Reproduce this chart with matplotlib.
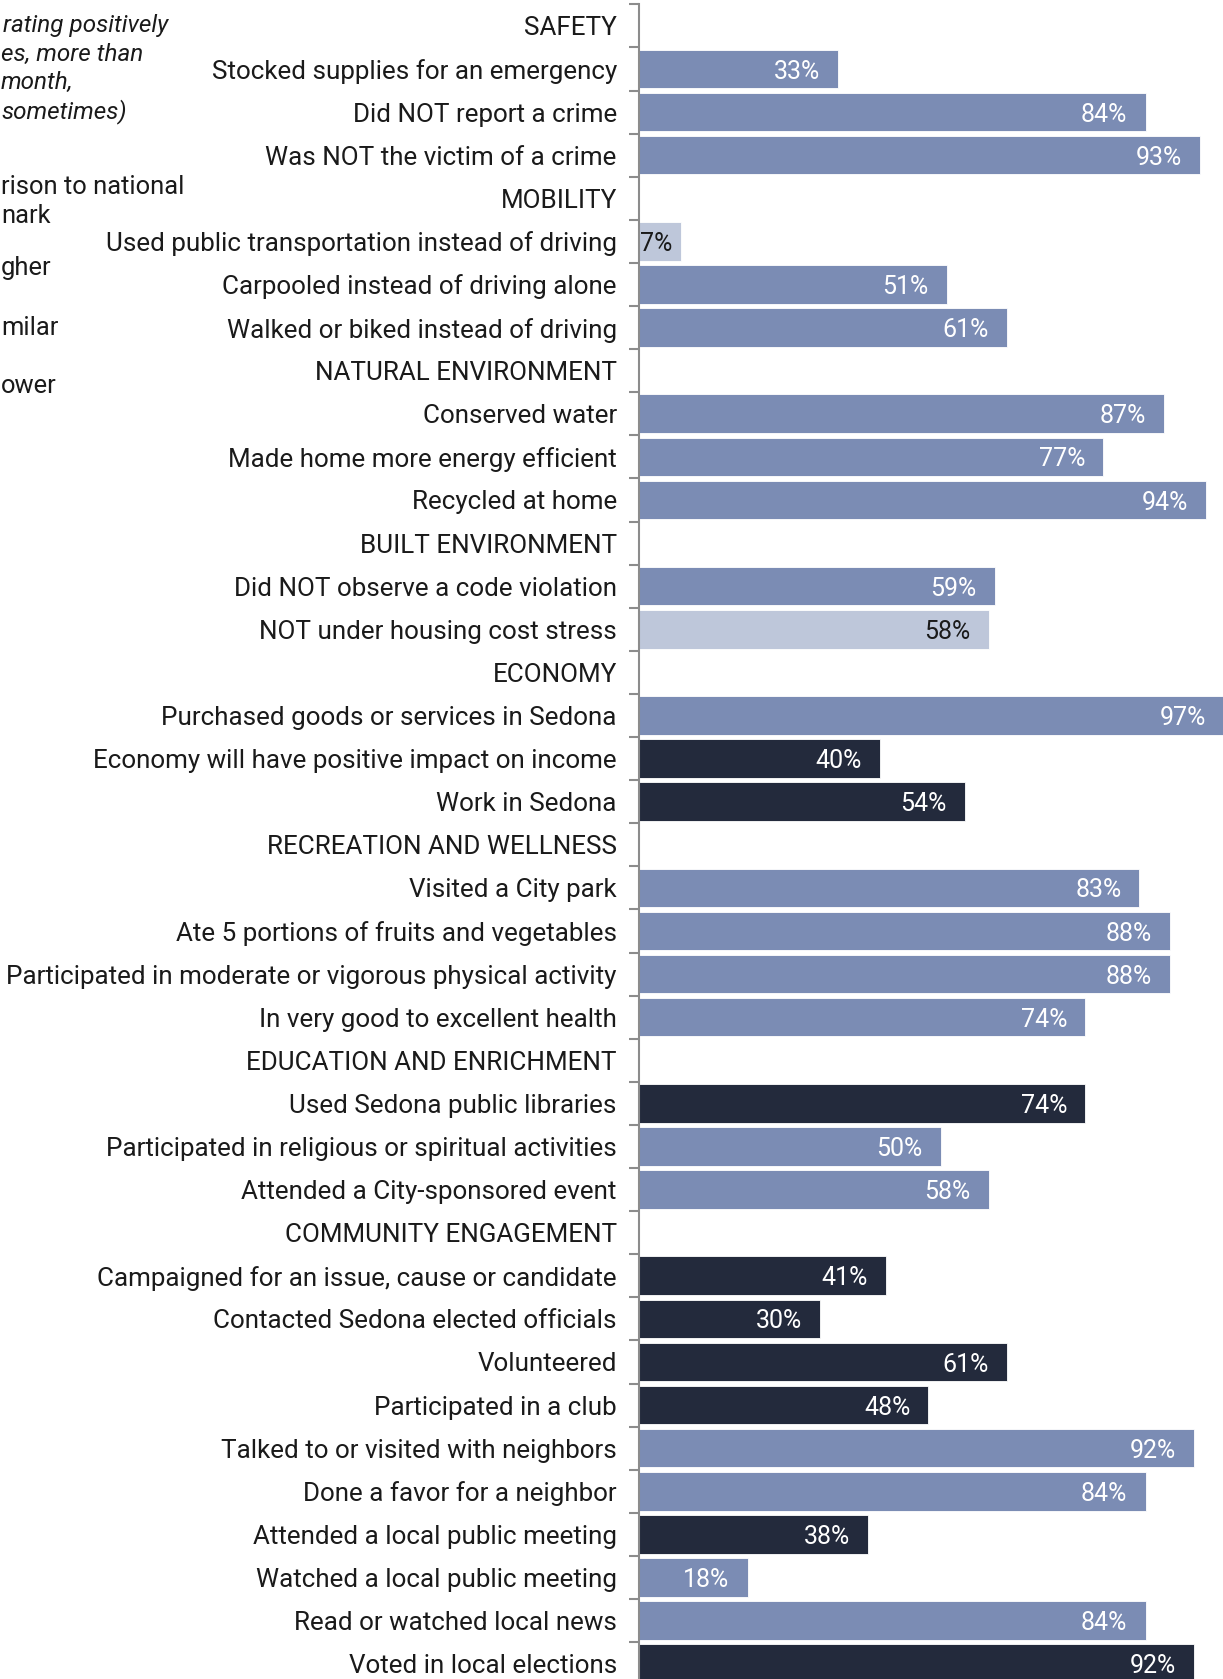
"""
Sedona survey: share of residents rating positively, by facet
"""

import matplotlib
matplotlib.use("Agg")
import matplotlib.pyplot as plt
import numpy as np

plt.rcParams['font.family'] = ['Roboto', 'DejaVu Sans']

# 类别与数值 (None = 分组标题行)
labels = [
    "SAFETY",
    "Stocked supplies for an emergency",
    "Did NOT report a crime",
    "Was NOT the victim of a crime",
    "MOBILITY",
    "Used public transportation instead of driving",
    "Carpooled instead of driving alone",
    "Walked or biked instead of driving",
    "NATURAL ENVIRONMENT",
    "Conserved water",
    "Made home more energy efficient",
    "Recycled at home",
    "BUILT ENVIRONMENT",
    "Did NOT observe a code violation",
    "NOT under housing cost stress",
    "ECONOMY",
    "Purchased goods or services in Sedona",
    "Economy will have positive impact on income",
    "Work in Sedona",
    "RECREATION AND WELLNESS",
    "Visited a City park",
    "Ate 5 portions of fruits and vegetables",
    "Participated in moderate or vigorous physical activity",
    "In very good to excellent health",
    "EDUCATION AND ENRICHMENT",
    "Used Sedona public libraries",
    "Participated in religious or spiritual activities",
    "Attended a City-sponsored event",
    "COMMUNITY ENGAGEMENT",
    "Campaigned for an issue, cause or candidate",
    "Contacted Sedona elected officials",
    "Volunteered",
    "Participated in a club",
    "Talked to or visited with neighbors",
    "Done a favor for a neighbor",
    "Attended a local public meeting",
    "Watched a local public meeting",
    "Read or watched local news",
    "Voted in local elections",
]

values = [
    None, 33, 84, 93,
    None, 7, 51, 61,
    None, 87, 77, 94,
    None, 59, 58,
    None, 97, 40, 54,
    None, 83, 88, 88, 74,
    None, 74, 50, 58,
    None, 41, 30, 61, 48, 92, 84, 38, 18, 84, 92,
]

# 与全国基准比较: H = higher, S = similar, L = lower
benchmark = [
    None, "S", "S", "S",
    None, "L", "S", "S",
    None, "S", "S", "S",
    None, "S", "L",
    None, "S", "H", "H",
    None, "S", "S", "S", "S",
    None, "H", "S", "S",
    None, "H", "H", "H", "H", "S", "S", "H", "S", "S", "H",
]

legend_lines = ["rating positively", "es, more than", "month,", "sometimes)"]
legend_keys = ["rison to national", "nark", "gher", "milar", "ower"]

colors = {"H": "#232a3c", "S": "#7b8cb4", "L": "#bec7da"}
text_colors = {"H": "white", "S": "white", "L": "#1a1a1a"}

W, H = 1223, 1679
fig = plt.figure(figsize=(W / 100, H / 100), dpi=100)

# 坐标轴位置 (像素)
x0 = 639
px_per_pct = 6.03
xmax = 98
top = 4.3
pitch = 43.1
n = len(labels)
ax = fig.add_axes([x0 / W, 1 - (top + n * pitch) / H,
                   xmax * px_per_pct / W, n * pitch / H])

y = np.arange(n)
for i, (v, b) in enumerate(zip(values, benchmark)):
    if v is None:
        continue
    ax.barh(i, v, height=0.895, color=colors[b], edgecolor="white",
            linewidth=0.6)
    if v < 10:
        ax.text(0.1, i + 0.06, f"{v}%", ha="left", va="center",
                color=text_colors[b], fontsize=18)
    else:
        ax.text(v - 3, i + 0.06, f"{v}%", ha="right", va="center",
                color=text_colors[b], fontsize=18)

ax.set_xlim(0, xmax)
ax.set_ylim(n - 0.5, -0.5)

ax.set_yticks(y)
ax.set_yticklabels(labels, fontsize=18.7, color="#1a1a1a")
ax.set_yticks(np.arange(n + 1) - 0.5, minor=True)
ax.tick_params(axis="y", which="major", length=0, pad=16)
ax.tick_params(axis="y", which="minor", length=7, width=1.5, color="#8c8c8c")
ax.set_xticks([])

for s in ["top", "right", "bottom"]:
    ax.spines[s].set_visible(False)
ax.spines["left"].set_color("#8c8c8c")
ax.spines["left"].set_linewidth(1.5)

# 左侧图例文字 (原图在左边被裁切)
ly = [24, 51, 77, 104]
lx = [3, 1, 1, 1]
for t, xx, yy in zip(legend_lines, lx, ly):
    fig.text(xx / W, 1 - yy * 1.071 / H, t, ha="left", va="center",
             fontsize=17.5, style="italic", color="#1a1a1a")
ky = [175, 202, 250, 306, 360]
for t, yy in zip(legend_keys, ky):
    fig.text(1 / W, 1 - yy * 1.071 / H, t, ha="left", va="center",
             fontsize=18.4, color="#1a1a1a")

fig.savefig("out.png", dpi=100)
